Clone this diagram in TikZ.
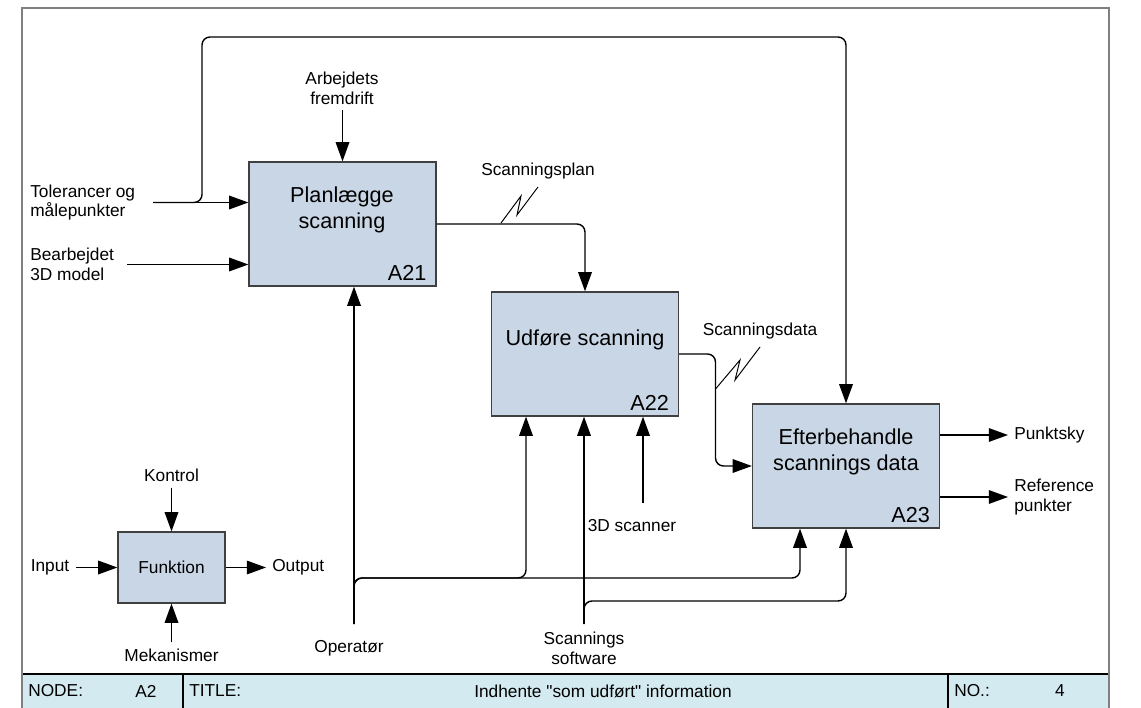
\documentclass[tikz,border=0pt]{standalone}
\usepackage{fontspec}
\setmainfont{Liberation Sans}[Ligatures=TeXOff]
\usetikzlibrary{arrows.meta,calc}
\definecolor{procfill}{RGB}{201,214,230}
\definecolor{footfill}{RGB}{211,234,240}
\definecolor{framegray}{RGB}{128,128,128}
\begin{document}
\begin{tikzpicture}[x=0.025cm,y=-0.025cm,
  proc/.style={draw=black!75,fill=procfill,line width=0.9pt,minimum width=4.675cm,minimum height=3.1cm,inner sep=0pt},
  ptext/.style={font=\fontsize{15.4}{18.5}\selectfont,align=center},
  pid/.style={ptext,anchor=south east,inner xsep=0.25cm,inner ysep=0.15cm},
  lbl/.style={font=\fontsize{12.3}{14}\selectfont,inner sep=0.15cm,align=center},
  flow/.style={line width=1pt,-{Triangle[length=0.48cm,width=0.34cm]}},
  bus/.style={flow,rounded corners=0.2cm},
  zig/.style={line width=0.7pt}]
\useasboundingbox (0,0) rectangle (1141,708);
\fill[footfill] (22,674) rectangle (1109,708);
\draw[line width=1pt] (22,674) -- (1109,674) (183,674) -- (183,708) (948,674) -- (948,708);
\draw[framegray,line width=1.4pt] (22,708) -- (22,8) -- (1109,8) -- (1109,708);
\node[lbl,anchor=west] (nodelbl) at (22,691) {NODE:};
\node[lbl] (nodeid) at (146,691) {A2};
\node[lbl,anchor=west] (titlelbl) at (183,691) {TITLE:};
\node[lbl] (title) at (603,691) {Indhente "som udført" information};
\node[lbl,anchor=west] (nolbl) at (948,691) {NO.:};
\node[lbl] (nonum) at (1060,691) {4};

\node[proc] (a21) at (342.5,224) {};
\node[proc] (a22) at (585,354) {};
\node[proc] (a23) at (846,466) {};
\node[ptext] at (342,210) {Planlægge\\scanning};
\node[ptext] at (585,340) {Udføre scanning};
\node[ptext] at (846,452) {Efterbehandle\\scannings data};
\node[pid] at (a21.south east) {A21};
\node[pid] at (a22.south east) {A22};
\node[pid] at (a23.south east) {A23};

\node[lbl,anchor=west,align=left] (tol) at (24,202.5) {Tolerancer og\\målepunkter};
\node[lbl,anchor=west,align=left] (bear) at (24,264.5) {Bearbejdet\\3D model};
\node[lbl] (arb) at (342,88) {Arbejdets\\fremdrift};
\draw[flow] ($(tol.east)+(12,0)$) -- (tol.east -| a21.west);
\draw[bus] ($(tol.east)+(12,0)$) -- (202,202.5) -- (202,37) -| (a23.north);
\draw[flow] ($(bear.east)+(7,0)$) -- (bear.east -| a21.west);
\draw[flow] (arb.south -| a21.north) -- (a21.north);

\draw[bus] (a21) -| (a22);
\draw[zig] (501,223) -- (521,196) -- (517,215) -- (538,187);
\node[lbl] (plan) at (538,171) {Scanningsplan};
\draw[bus] (a22.east) -| ($(a22.east)!0.5!(a23.west)$) |- (a23.west);
\draw[zig] (715.5,389) -- (740,360) -- (735,380) -- (760,347);
\node[lbl] (sdata) at (760,331) {Scanningsdata};

\node[lbl,anchor=west] (pkt) at (1008,435) {Punktsky};
\node[lbl,anchor=west,align=left] (ref) at (1008,497) {Reference\\punkter};
\draw[flow] (pkt -| a23.east) -- (pkt);
\draw[flow] (ref -| a23.east) -- (ref);

\coordinate (op) at (354,624);
\coordinate (sw) at (584,624);
\coordinate (scn) at (643,503);
\node[lbl] (oplbl) at (349,648) {Operatør};
\node[lbl] (swlbl) at (584,648) {Scannings\\software};
\node[lbl] (scnlbl) at (632,526) {3D scanner};
\draw[flow] (op) -- (op |- a21.south);
\draw[bus] (op) -- (op |- 0,578) -| ($(a22.south)+(-59,0)$);
\draw[bus] (op) -- (op |- 0,578) -| ($(a23.south)+(-46,0)$);
\draw[flow] (sw) -- (sw |- a22.south);
\draw[bus] (sw) -- (sw |- 0,601) -| (a23.south);
\draw[flow] (scn) -- (scn |- a22.south);

\node[proc,minimum width=2.675cm,minimum height=1.775cm,font=\fontsize{12.3}{14}\selectfont] (fn) at (171.5,567.5) {Funktion};
\node[lbl] (ktr) at (171.5,475) {Kontrol};
\node[lbl] (mek) at (171.5,655) {Mekanismer};
\node[lbl] (inp) at (50,567.5) {Input};
\node[lbl,anchor=west] (outp) at (266,567.5) {Output};
\draw[flow] (ktr) -- (fn);
\draw[flow] (mek) -- (fn);
\draw[flow] (inp) -- (fn);
\draw[flow] (fn) -- (outp);
\end{tikzpicture}
\end{document}
